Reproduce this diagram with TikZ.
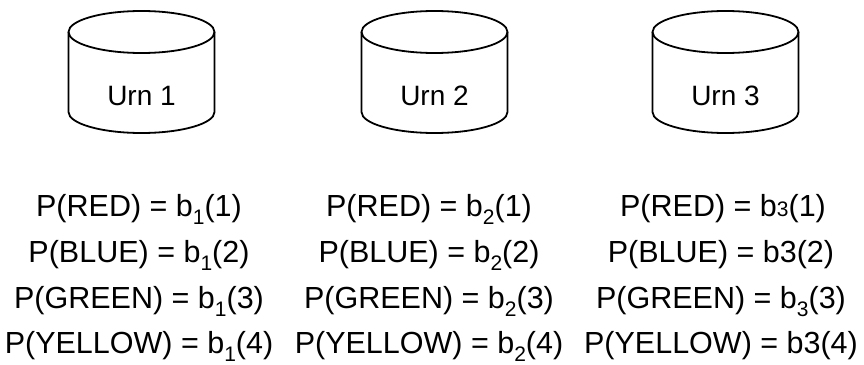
\documentclass[tikz,border=0pt]{standalone}
\usepackage{fontspec}
\setmainfont{Liberation Sans}
\newcommand\lowsub[1]{\raisebox{-0.27em}{\fontsize{21}{21}\selectfont #1}}
\newcommand\smalldigit[1]{{\fontsize{21}{21}\selectfont #1}}
\tikzset{
  urnline/.style={line width=1.8pt, black},
  urnlabel/.style={font=\fontsize{28}{30}\selectfont, anchor=base, inner sep=0pt},
  prob/.style={font=\fontsize{30.5}{32}\selectfont, anchor=base, inner sep=0pt},
}
\begin{document}
\begin{tikzpicture}[x=1pt,y=-1pt]
\useasboundingbox (0,0) rectangle (864,364);
% urns
\foreach \cx in {141.5,434.5,725.5}{
  \draw[urnline] (\cx,32) ellipse [x radius=73, y radius=21];
  \draw[urnline] (\cx-73,32) -- (\cx-73,112) arc[start angle=180, end angle=360, x radius=73, y radius=-21] -- (\cx+73,32);
}
\node[urnlabel] (u1) at (141.5,105) {Urn 1};
\node[urnlabel] (u2) at (434.5,105) {Urn 2};
\node[urnlabel] (u3) at (725.5,105) {Urn 3};
% column 1
\node[prob] (r1) at (139,216) {P(RED) = b\lowsub{1}(1)};
\node[prob] (b1) at (139,262) {P(BLUE) = b\lowsub{1}(2)};
\node[prob] (g1) at (139,308) {P(GREEN) = b\lowsub{1}(3)};
\node[prob] (y1) at (139,353) {P(YELLOW) = b\lowsub{1}(4)};
% column 2
\node[prob] (r2) at (429,216) {P(RED) = b\lowsub{2}(1)};
\node[prob] (b2) at (429,262) {P(BLUE) = b\lowsub{2}(2)};
\node[prob] (g2) at (429,308) {P(GREEN) = b\lowsub{2}(3)};
\node[prob] (y2) at (429,353) {P(YELLOW) = b\lowsub{2}(4)};
% column 3
\node[prob] (r3) at (723,216) {P(RED) = b\smalldigit{3}(1)};
\node[prob] (b3) at (721,262) {P(BLUE) = b3(2)};
\node[prob] (g3) at (721,308) {P(GREEN) = b\lowsub{3}(3)};
\node[prob] (y3) at (721,353) {P(YELLOW) = b3(4)};
\end{tikzpicture}
\end{document}
